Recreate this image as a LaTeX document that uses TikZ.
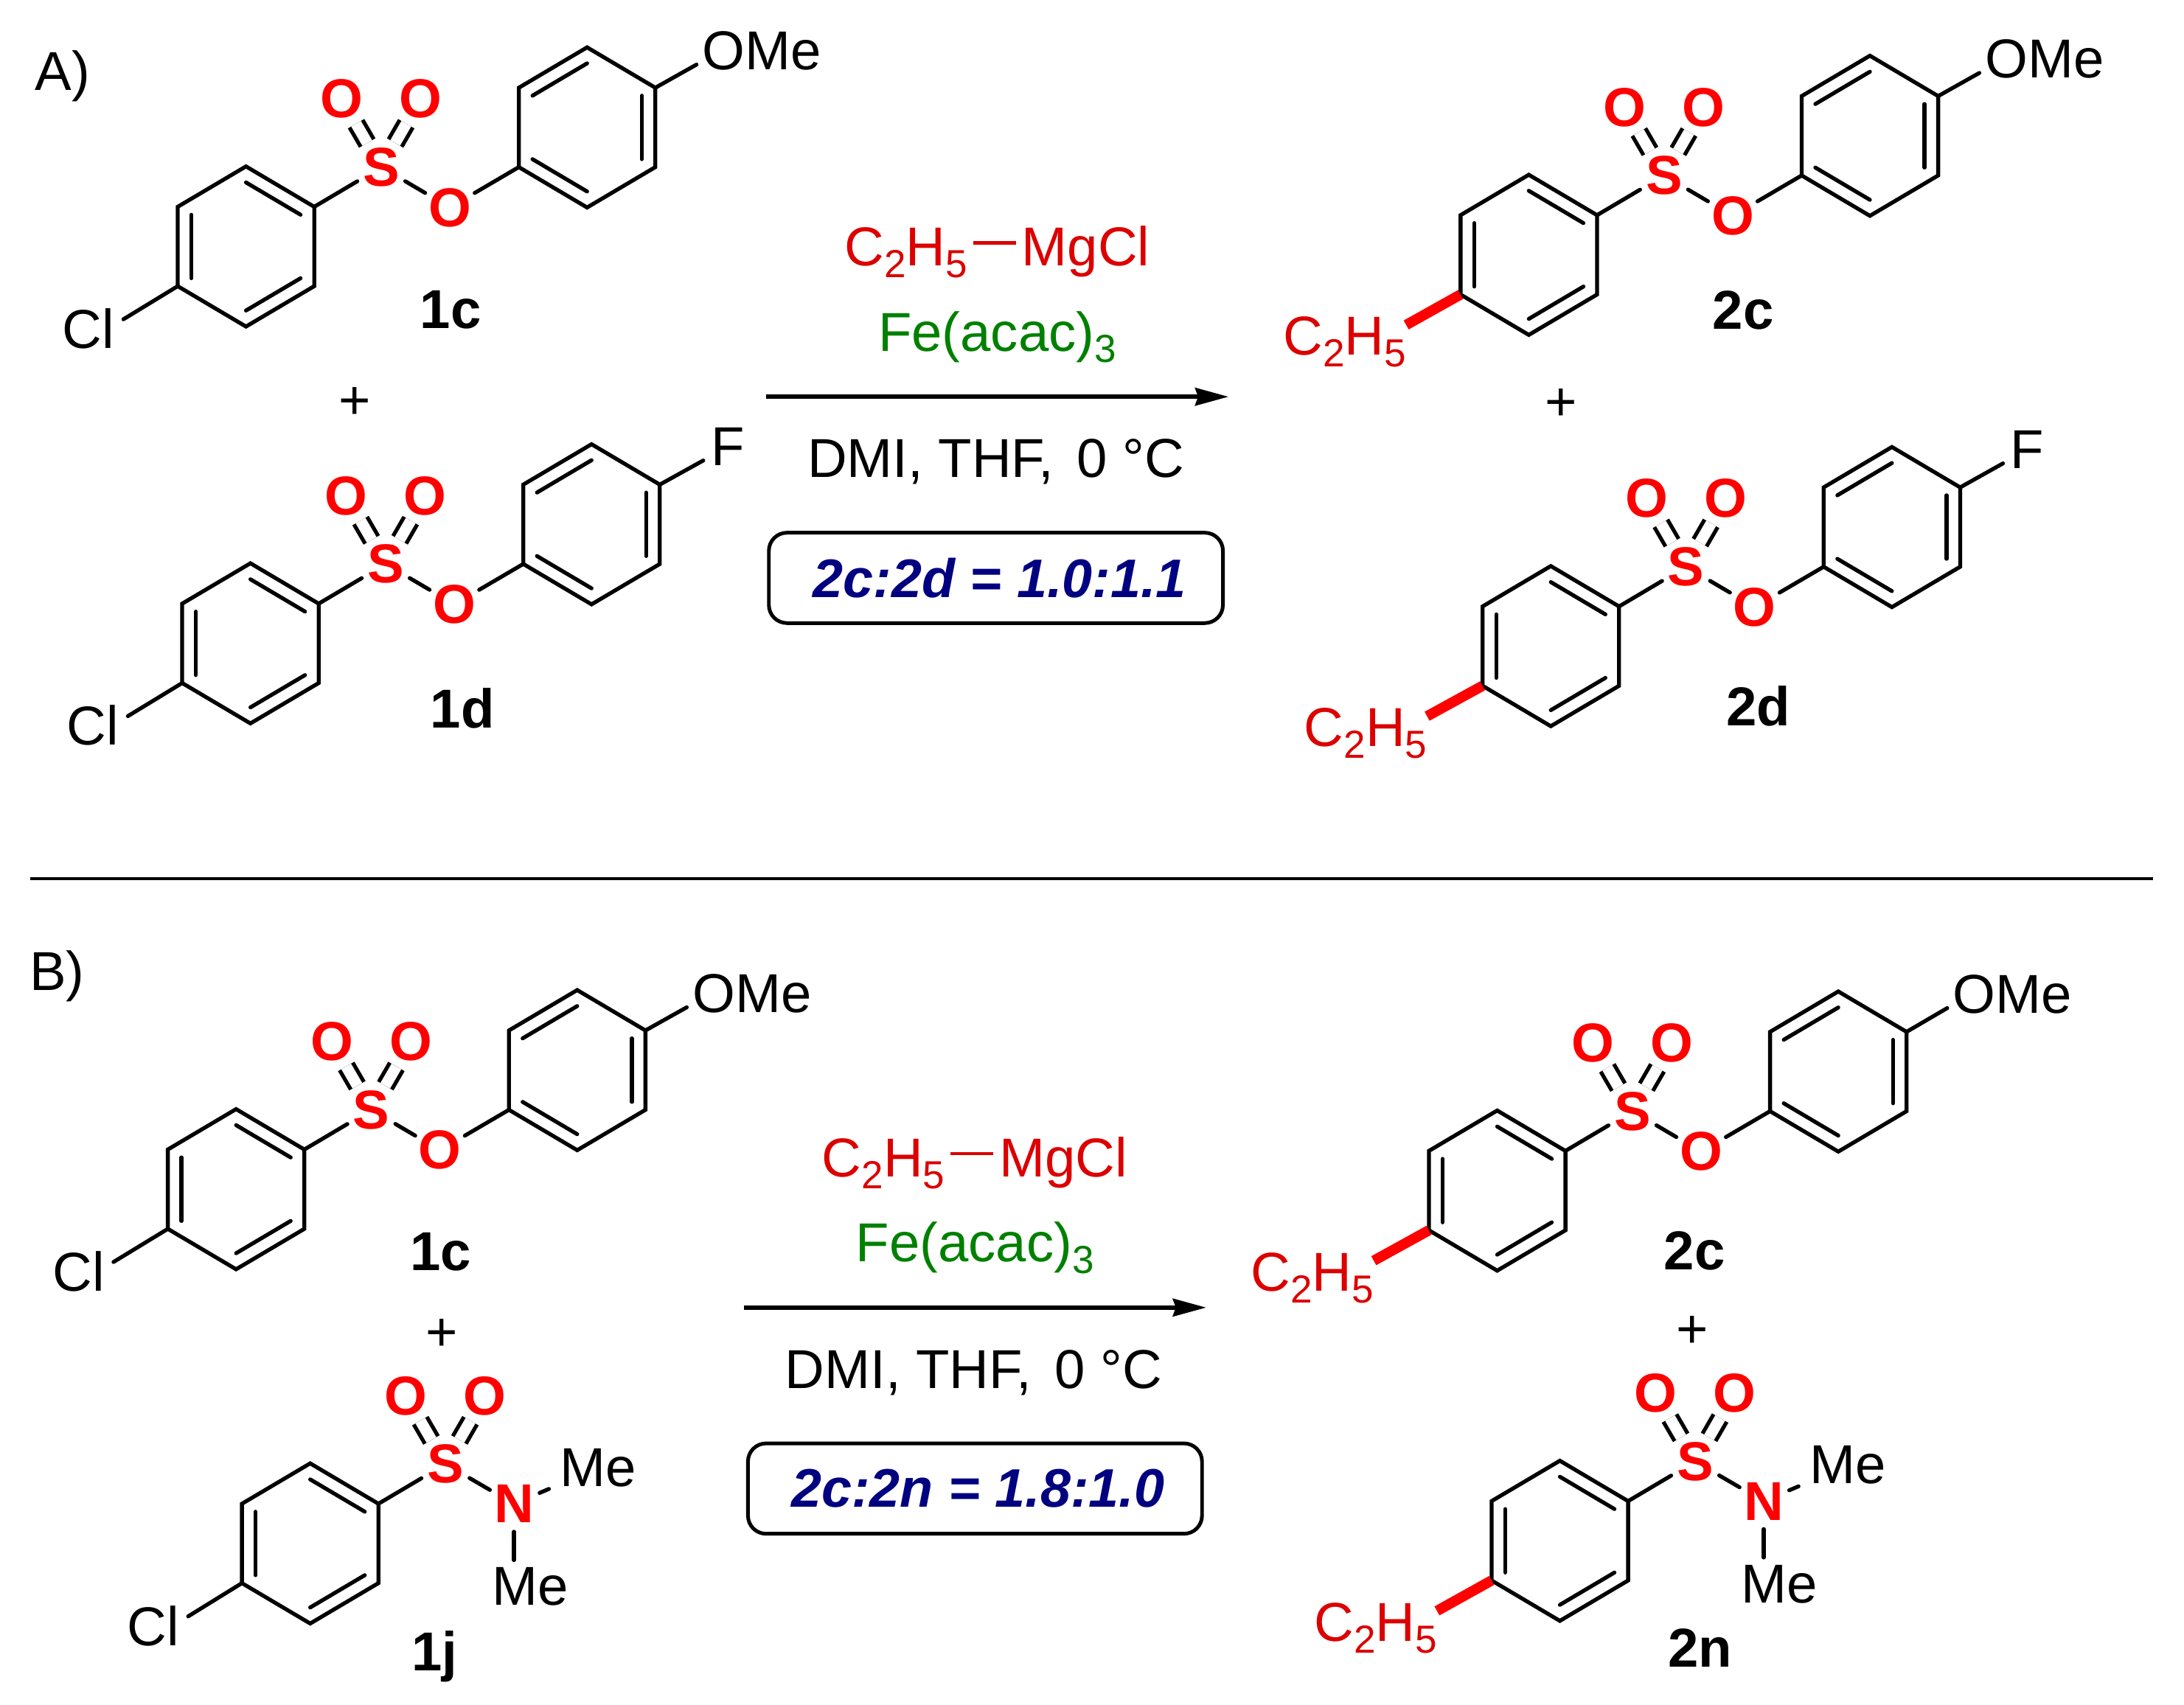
\documentclass[tikz,border=0pt]{standalone}
\usepackage{fontspec}
\setmainfont{Liberation Sans}
\usetikzlibrary{arrows.meta, calc}

\definecolor{atomred}{RGB}{255,0,0}
\definecolor{reagentred}{RGB}{220,0,0}
\definecolor{ironcolor}{RGB}{0,128,0}
\definecolor{rationavy}{RGB}{0,0,128}

\tikzset{
	bond/.style={line width=0.8pt, line cap=round},
	dbond/.style={line width=0.8pt, double, double distance=0.8mm},
	ethylbond/.style={line width=2.1pt, atomred},
	hetero/.style={circle, inner sep=0pt, outer sep=0pt, minimum size=4mm},
	atom/.style={hetero, text=atomred, font=\fontsize{11.2}{13}\selectfont\bfseries},
	halide/.style={hetero, minimum size=5.2mm},
	txt/.style={inner sep=0pt, outer sep=0pt, anchor=base},
	methyl/.style={inner xsep=2.3pt, inner ysep=1.5pt, outer sep=0pt},
	compound/.style={txt, font=\fontsize{11.2}{13}\selectfont\bfseries},
	ethyl/.style={txt, text=reagentred, text height=8.1pt, text depth=2.5pt},
	reagent/.style={inner xsep=1.2pt, inner ysep=0pt, outer sep=0pt, text=reagentred, text height=9.4pt, text depth=0pt},
	ratiobox/.style={draw, rounded corners=3.7pt, line width=0.75pt, minimum width=3.26cm, minimum height=6.49mm,
		inner sep=0pt, text=rationavy, font=\fontsize{11.1}{13}\selectfont\bfseries\itshape},
	rxnarrow/.style={line width=0.85pt, -{Stealth[length=6.8pt, width=3.6pt, inset=0.6pt]}}
}

\newcommand{\chemsub}[1]{\raisebox{-2.4pt}{\fontsize{8}{8}\selectfont #1}}

\newcommand{\arene}[3]{
	\begin{scope}[shift={(#2)}, xscale=#3]
		\coordinate (#1m) at (0, 0);
		\coordinate (#1v1) at (0, -57.5);
		\coordinate (#1v2) at (49, -28.5);
		\coordinate (#1v3) at (49, 28.5);
		\coordinate (#1v4) at (0, 57.5);
		\coordinate (#1v5) at (-49, 28.5);
		\coordinate (#1v6) at (-49, -28.5);
	\end{scope}
	\draw[bond] (#1v1) -- (#1v2) -- (#1v3) -- (#1v4) -- (#1v5) -- (#1v6) -- cycle;
	\draw[bond] ($(#1v1)!0.2!(#1m)$) to ($(#1v2)!0.2!(#1m)$);
	\draw[bond] ($(#1v3)!0.2!(#1m)$) to ($(#1v4)!0.2!(#1m)$);
	\draw[bond] ($(#1v5)!0.2!(#1m)$) to ($(#1v6)!0.2!(#1m)$);
}

\newcommand{\sulfonyl}[2]{
	\begin{scope}[shift={(#2)}]
		\node[atom] (#1S) at (0, 0) {S};
		\node[atom] (#1Oa) at (-28.4, -49) {O};
		\node[atom] (#1Ob) at (28.3, -49) {O};
		\arene{#1l}{-97.1, 57}{1}
	\end{scope}
	\draw[dbond] (#1S) to (#1Oa);
	\draw[dbond] (#1S) to (#1Ob);
	\draw[bond] (#1S) to (#1lv2);
}

\newcommand{\sulfonate}[2]{
	\sulfonyl{#1}{#2}
	\begin{scope}[shift={(#2)}]
		\node[atom] (#1Oc) at (49.3, 29) {O};
		\arene{#1r}{147.8, -28.5}{-1}
	\end{scope}
	\draw[bond] (#1S) to (#1Oc);
	\draw[bond] (#1Oc) to (#1rv3);
}

\newcommand{\sulfonamide}[2]{
	\sulfonyl{#1}{#2}
	\begin{scope}[shift={(#2)}]
		\node[atom] (#1N) at (49.2, 28.6) {N};
		\node[methyl] (#1Mea) at (109.7, 2.7) {Me};
		\node[methyl] (#1Meb) at (60.7, 88) {Me};
	\end{scope}
	\draw[bond] (#1S) to (#1N);
	\draw[bond] (#1N) to (#1Mea);
	\draw[bond] (#1N) to (#1N |- #1Meb.north);
}

\begin{document}
\begin{tikzpicture}[x=0.1mm, y=-0.1mm, font=\fontsize{11.2}{13}\selectfont]
	\useasboundingbox (0, 0) rectangle (1568, 1224.4);

	%reaction A
	\node[txt] (labelA) at (45, 65) {A)};

	\sulfonate{aoc}{273.7, 120}
	\node[halide] (aocCl) at (63.5, 236) {Cl};
	\draw[bond] (aoclv5) to (aocCl.15);
	\node[txt] (aocOMe) at (547, 50) {OMe};
	\draw[bond, shorten >=1.4pt] (aocrv6) to (aocOMe.190);
	\node[compound] (aocname) at (323.6, 236) {1c};

	\node[txt] (plusAl) at (255, 301) {+};

	\sulfonate{aod}{276.9, 405}
	\node[halide] (aodCl) at (66.7, 521) {Cl};
	\draw[bond] (aodlv5) to (aodCl.15);
	\node[hetero] (aodF) at (522.4, 321) {F};
	\draw[bond] (aodrv6) to (aodF);
	\node[compound] (aodname) at (332, 523) {1d};

	\node[reagent] (etA) at (650.5, 174.5) {C\chemsub{2}H\chemsub{5}};
	\node[reagent] (mgA) at (779.6, 174.5) {MgCl};
	\draw[line width=0.7pt, reagentred] (etA) to (mgA);
	\node[txt, text=ironcolor] (feA) at (716, 252) {Fe(acac)\chemsub{3}};
	\coordinate (arrowAs) at (550, 284.9);
	\coordinate (arrowAe) at (882, 284.9);
	\draw[rxnarrow] (arrowAs) to (arrowAe);
	\node[txt] (solvA) at (715, 342.7) {DMI, THF,\hspace{1.6pt} 0 °C};
	\node[ratiobox] (ratioA) at (715, 415) {\hspace{1.5pt}2c:2d = 1.0:1.1};

	\sulfonate{atc}{1194.7, 126}
	\node[ethyl] (atcEt) at (965.5, 255) {C\chemsub{2}H\chemsub{5}};
	\draw[ethylbond] (atclv5) to (atcEt.15);
	\node[txt] (atcOMe) at (1468, 56) {OMe};
	\draw[bond, shorten >=1.4pt] (atcrv6) to (atcOMe.190);
	\node[compound] (atcname) at (1251.5, 236.5) {2c};

	\node[txt] (plusAr) at (1121, 302) {+};

	\sulfonate{atd}{1210.5, 407}
	\node[ethyl] (atdEt) at (980.5, 536) {C\chemsub{2}H\chemsub{5}};
	\draw[ethylbond] (atdlv5) to (atdEt.15);
	\node[hetero] (atdF) at (1455.5, 323) {F};
	\draw[bond] (atdrv6) to (atdF);
	\node[compound] (atdname) at (1262.5, 521) {2d};

	%separation
	\coordinate (sepl) at (21.5, 631);
	\coordinate (sepr) at (1546, 631);
	\draw[line width=0.75pt] (sepl) to (sepr);

	%reaction B
	\node[txt] (labelB) at (41, 711) {B)};

	\sulfonate{boc}{266.6, 797}
	\node[halide] (bocCl) at (56.4, 913) {Cl};
	\draw[bond] (boclv5) to (bocCl.15);
	\node[txt] (bocOMe) at (540, 727) {OMe};
	\draw[bond, shorten >=1.4pt] (bocrv6) to (bocOMe.190);
	\node[compound] (bocname) at (316.5, 912.5) {1c};

	\node[txt] (plusBl) at (317, 970) {+};

	\sulfonamide{boj}{319.8, 1051.4}
	\node[halide] (bojCl) at (110, 1167.5) {Cl};
	\draw[bond] (bojlv5) to (bojCl.15);
	\node[compound] (bojname) at (312, 1199.6) {1j};

	\node[reagent] (etB) at (634.2, 828.5) {C\chemsub{2}H\chemsub{5}};
	\node[reagent] (mgB) at (763.3, 828.5) {MgCl};
	\draw[line width=0.7pt, reagentred] (etB) to (mgB);
	\node[txt, text=ironcolor] (feB) at (700, 906) {Fe(acac)\chemsub{3}};
	\coordinate (arrowBs) at (534, 939);
	\coordinate (arrowBe) at (866, 939);
	\draw[rxnarrow] (arrowBs) to (arrowBe);
	\node[txt] (solvB) at (699, 997) {DMI, THF,\hspace{1.6pt} 0 °C};
	\node[ratiobox] (ratioB) at (700, 1069) {\hspace{1.2pt}2c:2n = 1.8:1.0};

	\sulfonate{btc}{1172, 798}
	\node[ethyl] (btcEt) at (942.2, 927) {C\chemsub{2}H\chemsub{5}};
	\draw[ethylbond] (btclv5) to (btcEt.15);
	\node[txt] (btcOMe) at (1444.9, 727.5) {OMe};
	\draw[bond, shorten >=1.4pt] (btcrv6) to (btcOMe.190);
	\node[compound] (btcname) at (1216.5, 912) {2c};

	\node[txt] (plusBr) at (1215, 968) {+};

	\sulfonamide{btn}{1217, 1049.5}
	\node[ethyl] (btnEt) at (987.6, 1178.5) {C\chemsub{2}H\chemsub{5}};
	\draw[ethylbond] (btnlv5) to (btnEt.15);
	\node[compound] (btnname) at (1220.5, 1197) {2n};
\end{tikzpicture}
\end{document}
